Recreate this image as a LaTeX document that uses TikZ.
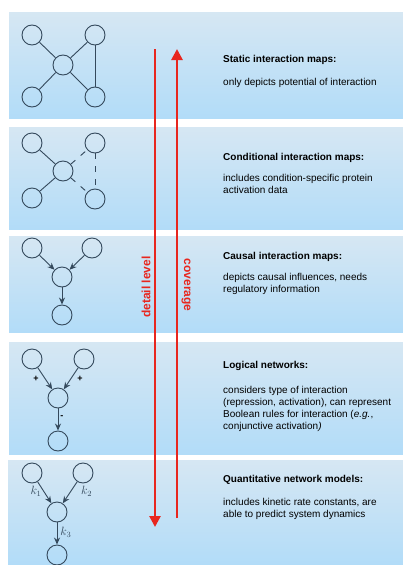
\documentclass[tikz,border=0pt]{standalone}
\usepackage{fontspec}
\setmainfont{Liberation Sans}
\usetikzlibrary{arrows.meta}
\definecolor{netblue}{HTML}{34495C}
\definecolor{bandtop}{HTML}{D6E7F3}
\definecolor{bandbot}{HTML}{B2DCF8}
\definecolor{levelred}{HTML}{E8261E}

\begin{document}
\begin{tikzpicture}[x=1pt,y=-1pt,
    prot/.style={circle,draw=netblue,line width=0.9pt,minimum size=20pt,inner sep=0pt},
    link/.style={draw=netblue,line width=0.9pt},
    cond/.style={link,dash pattern=on 6pt off 7pt},
    act/.style={link,-{Stealth[length=7pt,width=6pt]}},
    band/.style={top color=bandtop,bottom color=bandbot,draw=none},
    title/.style={anchor=base west,inner sep=0pt,font=\fontsize{10}{12}\selectfont\bfseries},
    body/.style={anchor=north west,inner sep=0pt,align=left,font=\fontsize{10}{12}\selectfont},
    rate/.style={text=netblue,inner sep=1pt,font=\large},
    sign/.style={inner sep=1pt,font=\small\bfseries},
    levellabel/.style={text=levelred,font=\fontsize{12}{14}\selectfont\bfseries,inner sep=0pt}]
  \useasboundingbox (0,0) rectangle (403,565);
  \fill[white] (0,0) rectangle (403,565);

  % background bands
  \shade[band] (9,12) rectangle (403,118);
  \shade[band] (9,127) rectangle (403,229);
  \shade[band] (9,236) rectangle (403,332);
  \shade[band] (9,342) rectangle (403,454);
  \shade[band] (8,460) rectangle (403,565);

  % static interaction map
  \node[prot] (sa) at (32,35) {};
  \node[prot] (sb) at (95,35) {};
  \node[prot] (sc) at (63,65) {};
  \node[prot] (sd) at (32,97) {};
  \node[prot] (se) at (95,97) {};
  \draw[link] (sa) -- (sc);
  \draw[link] (sb) -- (sc);
  \draw[link] (sd) -- (sc);
  \draw[link] (se) -- (sc);
  \draw[link] (sb) -- (se);

  % conditional interaction map
  \node[prot] (ca) at (32,143) {};
  \node[prot] (cb) at (95,143) {};
  \node[prot] (cc) at (63,171) {};
  \node[prot] (cd) at (32,198) {};
  \node[prot] (ce) at (95,199) {};
  \draw[link] (ca) -- (cc);
  \draw[link] (cd) -- (cc);
  \draw[cond] (cc) -- (cb);
  \draw[cond] (cc) -- (ce);
  \draw[cond] (cb) -- (ce);

  % causal interaction map
  \node[prot] (ka) at (32,248) {};
  \node[prot] (kb) at (92,248) {};
  \node[prot] (kc) at (62,277) {};
  \node[prot] (kd) at (62,315) {};
  \draw[act] (ka) -- (kc);
  \draw[act] (kb) -- (kc);
  \draw[act] (kc) -- (kd);

  % logical network
  \node[prot] (la) at (32,359) {};
  \node[prot] (lb) at (84,359) {};
  \node[prot] (lc) at (58,398) {};
  \node[prot] (ld) at (58,441) {};
  \draw[act] (la) -- node[sign,left=5pt,pos=0.5] {+} (lc);
  \draw[act] (lb) -- node[sign,right=5pt,pos=0.5] {+} (lc);
  \draw[act] (lc) -- node[sign,right=1pt,pos=0.4] {-} (ld);

  % quantitative network model
  \node[prot] (qa) at (32,473) {};
  \node[prot] (qb) at (83,473) {};
  \node[prot] (qc) at (57,512) {};
  \node[prot] (qd) at (57,555) {};
  \draw[act] (qa) -- node[rate,left=1pt,pos=0.45] {$k_1$} (qc);
  \draw[act] (qb) -- node[rate,right=9pt,pos=0.45] {$k_2$} (qc);
  \draw[act] (qc) -- node[rate,right=2pt,pos=0.45] {$k_3$} (qd);

  % detail level and coverage
  \coordinate (dtop) at (155,49);
  \coordinate (dbot) at (155,527);
  \coordinate (cbot) at (177,518);
  \coordinate (ctop) at (177,49);
  \draw[levelred,line width=2.6pt,-{Triangle[length=11pt,width=11pt]}] (dtop) -- (dbot);
  \draw[levelred,line width=2.6pt,-{Triangle[length=11pt,width=11pt]}] (cbot) -- (ctop);
  \node[levellabel,rotate=90] (detail) at (146,287) {detail level};
  \node[levellabel,rotate=-90] (cover) at (186,285) {coverage};

  % descriptions
  \node[title] (t1) at (223,62) {Static interaction maps:};
  \node[body] (d1) at (223,78) {only depicts potential of interaction};
  \node[title] (t2) at (223,160) {Conditional interaction maps:};
  \node[body] (d2) at (223,174) {includes condition-specific protein\\activation data};
  \node[title] (t3) at (223,259) {Causal interaction maps:};
  \node[body] (d3) at (223,273) {depicts causal influences, needs\\regulatory information};
  \node[title] (t4) at (223,368) {Logical networks:};
  \node[body] (d4) at (223,386) {considers type of interaction\\(repression, activation), can represent\\Boolean rules for interaction (\textit{e.g.},\\conjunctive activation\textit{)}};
  \node[title] (t5) at (223,482) {Quantitative network models:};
  \node[body] (d5) at (223,498) {includes kinetic rate constants, are\\able to predict system dynamics};
\end{tikzpicture}
\end{document}
